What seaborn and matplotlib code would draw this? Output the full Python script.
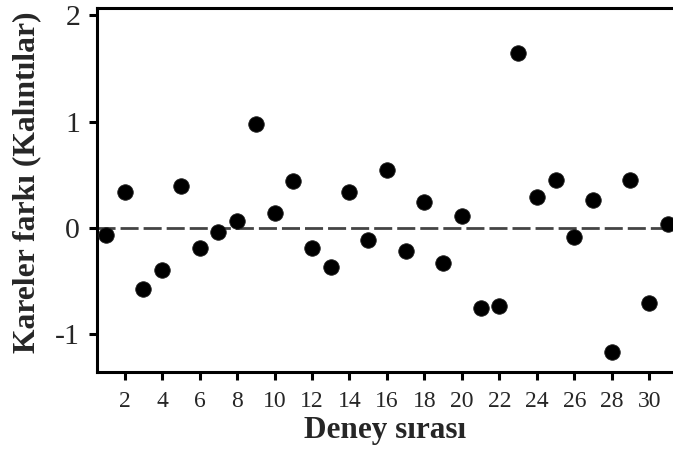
import matplotlib
matplotlib.use("Agg")
import matplotlib.pyplot as plt
import seaborn as sns
import pandas as pd

# Run order and residuals of the squared differences
run_order = list(range(1, 32))
residuals = [-0.07, 0.34, -0.58, -0.40, 0.39, -0.19, -0.04, 0.06, 0.98, 0.14,
             0.44, -0.19, -0.37, 0.34, -0.12, 0.54, -0.22, 0.24, -0.33, 0.11,
             -0.76, -0.74, 1.65, 0.29, 0.45, -0.09, 0.26, -1.17, 0.45, -0.71,
             0.035]
x_ticks = list(range(2, 31, 2))
y_ticks = [-1, 0, 1, 2]

df = pd.DataFrame({"run": run_order, "resid": residuals})

sns.set_theme(style="white")
plt.rcParams["font.family"] = ["Liberation Serif", "DejaVu Serif"]

fig = plt.figure(figsize=(6.73, 4.58), dpi=100)
ax = fig.add_axes([0.144, 0.188, 0.856, 0.7945])

ax.axhline(0, color="#444444", lw=2.0, dashes=(6.5, 1.8), zorder=1)
sns.scatterplot(data=df, x="run", y="resid", ax=ax, s=125, color="black",
                edgecolor="#222222", linewidth=0.6, zorder=3, clip_on=False)

ax.set_xlim(0.52, 31.27)
ax.set_ylim(-1.36, 2.07)
ax.set_xticks(x_ticks)
ax.set_yticks(y_ticks)
ax.set_xticklabels([str(t) for t in x_ticks], fontsize=17)
ax.set_yticklabels([str(t) for t in y_ticks], fontsize=21.5)

for side in ["left", "top", "bottom"]:
    ax.spines[side].set_visible(True)
    ax.spines[side].set_color("black")
    ax.spines[side].set_linewidth(2.2)
ax.spines["right"].set_visible(False)

ax.tick_params(axis="both", direction="out", length=6, width=2.2, color="black",
               bottom=True, left=True)
ax.tick_params(axis="x", pad=8)
ax.tick_params(axis="y", pad=6)

ax.set_xlabel("Deney sırası", fontsize=22.5, fontweight="bold", va="baseline")
ax.xaxis.set_label_coords(0.5, -0.181)
ax.set_ylabel("Kareler farkı (Kalıntılar)", fontsize=22.8, fontweight="bold",
              va="center")
ax.yaxis.set_label_coords(-0.1215, 0.522)

fig.savefig("out.png", dpi=100)
